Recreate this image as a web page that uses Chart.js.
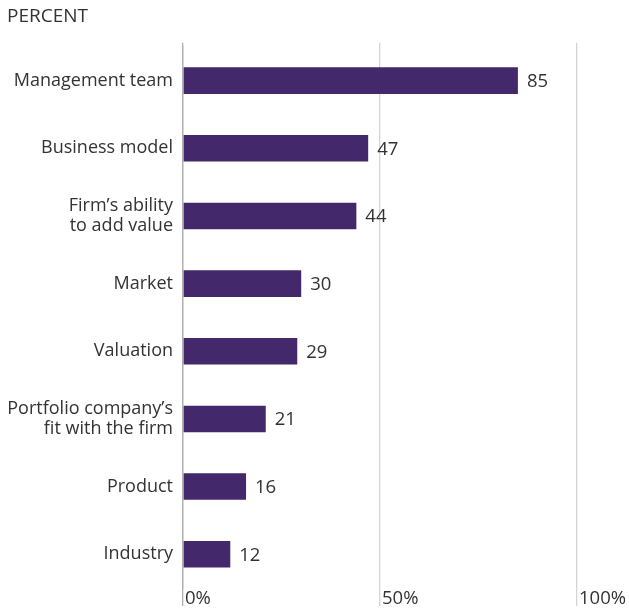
<!DOCTYPE html>
<html>
<head>
<meta charset="utf-8">
<script src="https://cdn.jsdelivr.net/npm/chart.js@4.4.1/dist/chart.umd.min.js"></script>
<style>
  html, body { margin: 0; padding: 0; background: #fff; }
  #wrap { width: 629px; height: 608px; position: relative; }
</style>
</head>
<body>
<div id="wrap"><canvas id="myChart"></canvas></div>
<script>
const categories = [
    'Management team',
    'Business model',
    ['Firm\u2019s ability', 'to add value'],
    'Market',
    'Valuation',
    ['Portfolio company\u2019s', 'fit with the firm'],
    'Product',
    'Industry'
];
const values = [85, 47, 44, 30, 29, 21, 16, 12];
const tickValues = [0, 50, 100];

const barColor = '#43296b';
const textColor = '#333333';
const fontFamily = '"Open Sans", Lato, sans-serif';

// draws the number next to each bar
const valueLabels = {
    id: 'valueLabels',
    afterDatasetsDraw(chart) {
        const ctx = chart.ctx;
        const meta = chart.getDatasetMeta(0);
        ctx.save();
        ctx.font = '18.5px ' + fontFamily;
        ctx.fillStyle = textColor;
        ctx.textAlign = 'left';
        ctx.textBaseline = 'middle';
        meta.data.forEach((bar, i) => {
            ctx.fillText(String(values[i]), bar.x + 9, bar.y + 1);
        });
        ctx.restore();
    }
};

let chart = new Chart(document.getElementById('myChart'), {
    type: 'bar',
    data: {
        labels: categories,
        datasets: [{
            data: values,
            backgroundColor: barColor,
            borderWidth: 0,
            barPercentage: 0.8,
            categoryPercentage: 0.49
        }]
    },
    options: {
        indexAxis: 'y',
        responsive: true,
        maintainAspectRatio: false,
        animation: false,
        layout: { padding: { left: 7, right: 52, top: 0, bottom: 0 } },
        plugins: {
            legend: { display: false },
            tooltip: { enabled: false },
            title: {
                display: true,
                text: 'PERCENT',
                align: 'start',
                color: textColor,
                font: { family: fontFamily, size: 19, weight: 'normal', lineHeight: 1.2 },
                padding: { top: 5, bottom: 15 }
            }
        },
        scales: {
            x: {
                type: 'linear',
                position: 'bottom',
                min: 0,
                max: 100,
                afterBuildTicks: (scale) => { scale.ticks = tickValues.map(v => ({ value: v })); },
                grid: {
                    color: (c) => c.tick && c.tick.value === 0 ? '#b0b0b0' : '#d4d4d4',
                    lineWidth: 1.3,
                    drawTicks: true,
                    tickLength: 18
                },
                border: { display: false },
                ticks: {
                    align: 'start',
                    padding: -18,
                    labelOffset: 2,
                    color: textColor,
                    font: { family: fontFamily, size: 18.5 },
                    callback: (v) => v + '%'
                },
                afterFit: (scale) => { scale.height = 17.8; }
            },
            x2: {
                type: 'linear',
                position: 'top',
                min: 0,
                max: 100,
                afterBuildTicks: (scale) => { scale.ticks = tickValues.map(v => ({ value: v })); },
                grid: {
                    color: (c) => c.tick && c.tick.value === 0 ? '#b0b0b0' : '#d4d4d4',
                    lineWidth: 1.3,
                    drawOnChartArea: false,
                    tickLength: 4
                },
                border: { display: false },
                ticks: { display: false }
            },
            y: {
                grid: { display: false, drawTicks: false },
                border: { display: true, color: '#b0b0b0', width: 1.3 },
                ticks: {
                    padding: 10,
                    color: textColor,
                    font: { family: fontFamily, size: 18, lineHeight: 1.1 }
                },
                afterFit: (scale) => { scale.width = 176; }
            }
        }
    },
    plugins: [valueLabels]
});
</script>
</body>
</html>
